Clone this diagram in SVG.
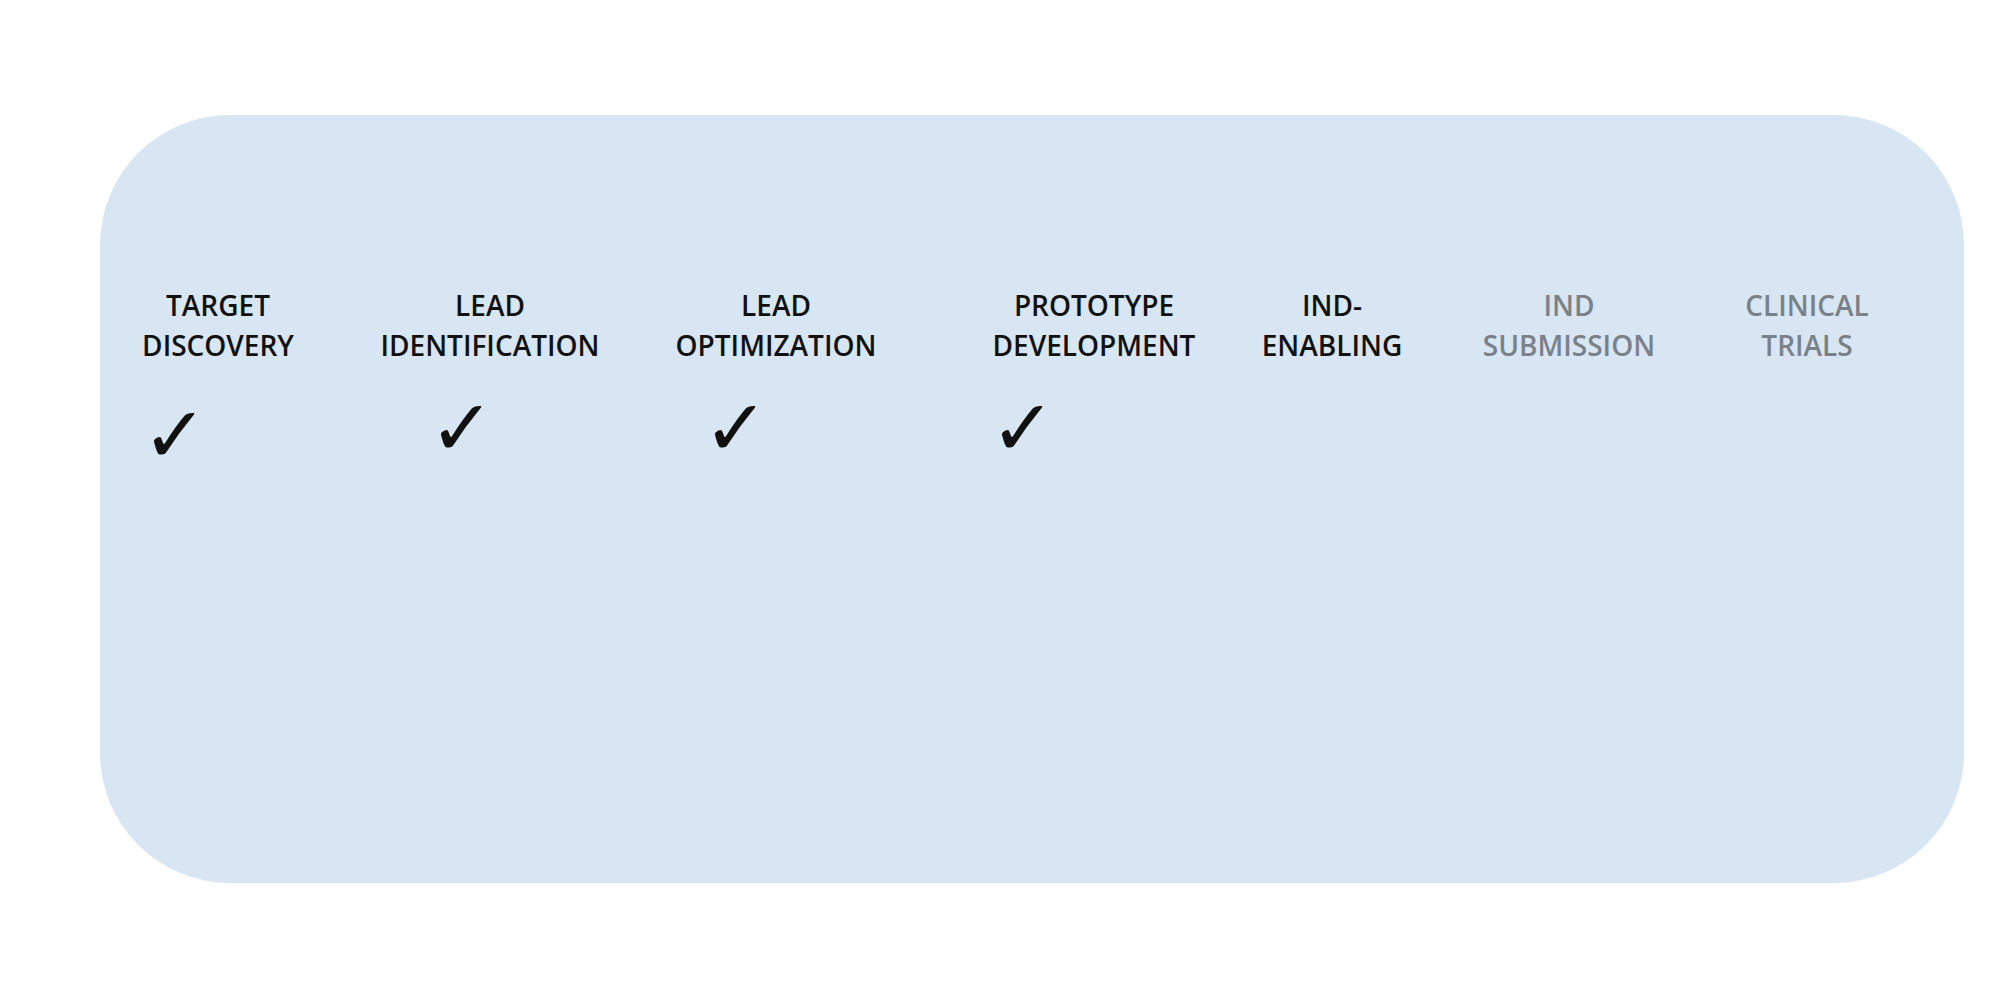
<svg xmlns="http://www.w3.org/2000/svg" width="2000" height="1000" viewBox="0 0 2000 1000">
<style>
.t{font-family:"Open Sans","Noto Sans",sans-serif;font-weight:600;font-size:28px;text-anchor:middle;fill:#111}
.g{fill:#7b8189}
.c{font-family:"DejaVu Sans",sans-serif;font-weight:bold;font-size:78px;text-anchor:middle;fill:#111}
</style>
<rect width="2000" height="1000" fill="#fff"/>
<g id="panel"><rect x="100" y="115" width="1864" height="768" rx="130" fill="#d8e6f3"/></g>
<g id="n1"><text class="t" x="218" y="316">TARGET</text><text class="t" x="218" y="356">DISCOVERY</text><text class="c" x="175" y="462">✓</text></g>
<g id="n2"><text class="t" x="490" y="316">LEAD</text><text class="t" x="490" y="356">IDENTIFICATION</text><text class="c" x="462" y="455">✓</text></g>
<g id="n3"><text class="t" x="776" y="316">LEAD</text><text class="t" x="776" y="356">OPTIMIZATION</text><text class="c" x="736" y="455">✓</text></g>
<g id="n4"><text class="t" x="1094" y="316">PROTOTYPE</text><text class="t" x="1094" y="356">DEVELOPMENT</text><text class="c" x="1023" y="455">✓</text></g>
<g id="n5"><text class="t" x="1332" y="316">IND-</text><text class="t" x="1332" y="356">ENABLING</text></g>
<g id="n6"><text class="t g" x="1569" y="316">IND</text><text class="t g" x="1569" y="356">SUBMISSION</text></g>
<g id="n7"><text class="t g" x="1807" y="316">CLINICAL</text><text class="t g" x="1807" y="356">TRIALS</text></g>
<g id="connectors"/>
</svg>
